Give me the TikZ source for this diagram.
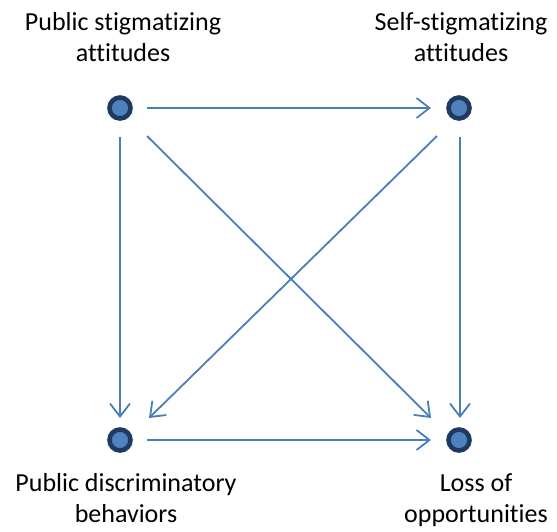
\documentclass[tikz,border=0pt]{standalone}
\usepackage{fontspec}
\setmainfont{Carlito}[RawFeature={-liga;-clig;-dlig}]
\usetikzlibrary{arrows.meta}
\definecolor{arr}{HTML}{4A7EBB}
\definecolor{nodefill}{HTML}{4F81BD}
\definecolor{noderim}{HTML}{1F3A60}
\tikzset{
  dot/.style={circle, draw=noderim, line width=4.6pt, fill=nodefill, minimum size=21pt, inner sep=0pt},
  lab/.style={align=center, font=\fontsize{26}{31.3}\selectfont, text=black, inner sep=0pt},
  link/.style={draw=arr, line width=1.8pt, -{Straight Barb[length=13pt, width=20pt, line width=1.8pt]}}
}
\begin{document}
\begin{tikzpicture}[x=1pt, y=-1pt]
\useasboundingbox (0,0) rectangle (557,531);
\node[dot] (a) at (120,108) {};
\node[dot] (b) at (459,108) {};
\node[dot] (c) at (120,440) {};
\node[dot] (d) at (459,440) {};
\node[lab] (la) at (123,40) {\strut Public stigmatizing\\\strut attitudes};
\node[lab] (lb) at (461,40) {\strut Self-stigmatizing\\\strut attitudes};
\node[lab] (lc) at (126,500.5) {\strut Public discriminatory\\\strut behaviors};
\node[lab] (ld) at (476,500.5) {\strut Loss of\\\strut opportunities};
\coordinate (a1) at (147,108); \coordinate (b1) at (431,108);
\coordinate (a2) at (120,137); \coordinate (c2) at (120,418);
\coordinate (a3) at (147,136); \coordinate (d3) at (431,418);
\coordinate (b4) at (437,136); \coordinate (c4) at (149,418);
\coordinate (b5) at (460,137); \coordinate (d5) at (460,418);
\coordinate (c6) at (147,440); \coordinate (d6) at (431,440);
\draw[link] (a1) -- (b1);
\draw[link] (a2) -- (c2);
\draw[link] (a3) -- (d3);
\draw[link] (b4) -- (c4);
\draw[link] (b5) -- (d5);
\draw[link] (c6) -- (d6);
\end{tikzpicture}
\end{document}
